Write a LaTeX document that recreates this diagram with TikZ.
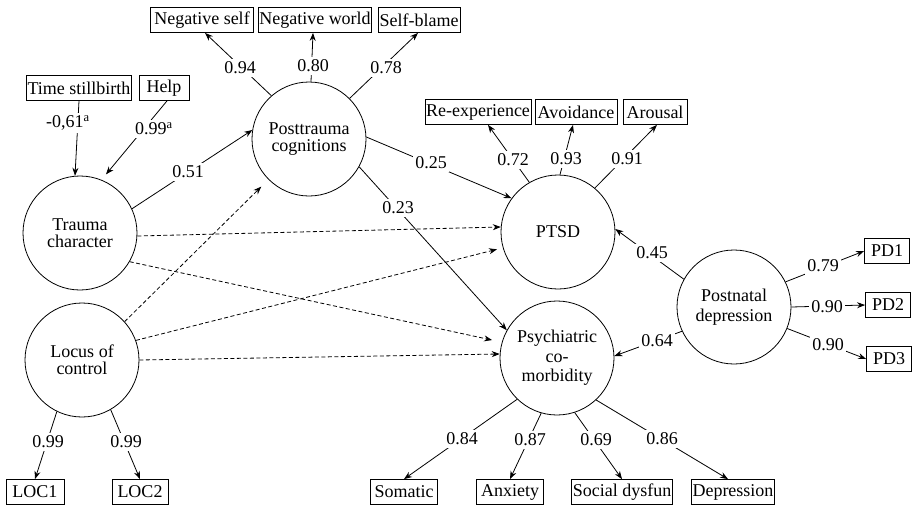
\documentclass[tikz,border=0pt]{standalone}
\usepackage{fontspec}
\setmainfont{Liberation Serif}
\usetikzlibrary{arrows.meta}
\begin{document}
\begin{tikzpicture}[x=1pt,y=-1pt,
  every node/.style={font=\fontsize{18}{17}\selectfont},
  latent/.style={draw, circle, minimum size=114pt, inner sep=0pt, align=center, line width=0.8pt},
  obs/.style={draw, rectangle, minimum height=25pt, inner xsep=1pt, inner ysep=0pt, line width=0.8pt},
  lbl/.style={fill=white, inner sep=2.5pt},
  arr/.style={line width=0.8pt, -{Stealth[length=8pt,width=6pt]}},
  darr/.style={line width=0.8pt, dash pattern=on 4pt off 2.5pt, -{Stealth[length=8pt,width=6pt]}}
]
\useasboundingbox (0,0) rectangle (914,507);

% latent variables
\node[latent, font=\fontsize{18}{16.5}\selectfont] (pc) at (309,139) {Posttrauma\\cognitions};
\node[latent, font=\fontsize{18}{16.5}\selectfont] (tc) at (80,233) {Trauma\\character};
\node[latent, font=\fontsize{18}{17}\selectfont] (lc) at (82,360) {Locus of\\control};
\node[latent] (ptsd) at (558,232) {PTSD};
\node[latent, font=\fontsize{18}{19.5}\selectfont] (psy) at (557,358) {Psychiatric\\co-\\morbidity};
\node[latent, font=\fontsize{18}{20}\selectfont] (pnd) at (734,307) {Postnatal\\depression};

% observed variables
\node[obs, minimum width=103pt] (ns) at (202,20) {Negative self};
\node[obs, minimum width=107pt] (nw) at (315,20) {Negative world};
\node[obs, minimum width=82pt] (sb) at (419,20) {Self-blame};
\node[obs, minimum width=102pt] (ts) at (79,88) {Time stillbirth};
\node[obs, minimum width=50pt] (hp) at (164,88) {Help};
\node[obs, minimum width=102pt] (re) at (478,112) {Re-experience};
\node[obs, minimum width=82pt] (av) at (576,112) {Avoidance};
\node[obs, minimum width=64pt] (ar) at (655,112) {Arousal};
\node[obs, minimum width=45pt] (pd1) at (887,251) {PD1};
\node[obs, minimum width=45pt] (pd2) at (888,305) {PD2};
\node[obs, minimum width=45pt] (pd3) at (889,359) {PD3};
\node[obs, minimum width=58pt] (loc1) at (35,492) {LOC1};
\node[obs, minimum width=56pt] (loc2) at (140,492) {LOC2};
\node[obs, minimum width=67pt] (som) at (404,492) {Somatic};
\node[obs, minimum width=67pt] (anx) at (510,492) {Anxiety};
\node[obs, minimum width=97pt] (soc) at (622,492) {Social dysfun};
\node[obs, minimum width=83pt] (dep) at (733,492) {Depression};

% connectors
\draw[arr] (pc.131) -- ([xshift=3pt]ns.south);
\draw[arr] (pc.88) -- ([xshift=-2pt]nw.south);
\draw[arr] (pc.45) -- ([xshift=-1pt]sb.south);
\draw[arr] (ts.south) -- (tc.95);
\draw[arr, shorten >=7pt] ([xshift=3pt]hp.south) -- (tc.68);
\draw[arr] (tc.25) -- (pc.171);
\draw[arr] (pc.2) -- (ptsd.144);
\draw[arr] (pc.331) -- (psy.151);
\draw[darr] (tc.357) -- (ptsd.175);
\draw[darr, shorten >=10pt] (tc.330) -- (psy.164);
\draw[darr, shorten >=10pt] (lc.42) -- (pc.225);
\draw[darr, shorten >=6pt] (lc.20) -- (ptsd.196);
\draw[darr] (lc.0) -- (psy.176);
\draw[arr] (lc.244) -- (loc1.north);
\draw[arr] (lc.300) -- (loc2.north);
\draw[arr] (pnd.151) -- (ptsd.3);
\draw[arr] (pnd.205) -- (psy.2);
\draw[arr] (pnd.26) -- (pd1.west);
\draw[arr] (pnd.0) -- (pd2.west);
\draw[arr] (pnd.338) -- (pd3.west);
\draw[arr] (ptsd.120) -- ([xshift=10pt]re.south);
\draw[arr] (ptsd.88) -- ([xshift=-3pt]av.south);
\draw[arr] (ptsd.50) -- ([xshift=2pt]ar.south);
\draw[arr] (psy.226) -- (som.north);
\draw[arr] (psy.254) -- (anx.north);
\draw[arr] (psy.288) -- (soc.north);
\draw[arr] (psy.313) -- ([xshift=-5pt]dep.north);

% labels
\node[lbl] (l1) at (240,68) {0.94};
\node[lbl] (l2) at (313,66) {0.80};
\node[lbl] (l3) at (386,68) {0.78};
\node[lbl] (l4) at (68,123) {-0,61\textsuperscript{a}};
\node[lbl] (l5) at (154,129) {0.99\textsuperscript{a}};
\node[lbl] (l6) at (188,172) {0.51};
\node[lbl] (l7) at (431,163) {0.25};
\node[lbl] (l8) at (398,208) {0.23};
\node[lbl] (l9) at (513,160) {0.72};
\node[lbl] (l10) at (566,159) {0.93};
\node[lbl] (l11) at (627,159) {0.91};
\node[lbl] (l12) at (652,253) {0.45};
\node[lbl] (l13) at (657,341) {0.64};
\node[lbl] (l14) at (823,266) {0.79};
\node[lbl] (l15) at (827,307) {0.90};
\node[lbl] (l16) at (828,345) {0.90};
\node[lbl] (l17) at (48,442) {0.99};
\node[lbl] (l18) at (126,442) {0.99};
\node[lbl] (l19) at (462,439) {0.84};
\node[lbl] (l20) at (530,440) {0.87};
\node[lbl] (l21) at (596,440) {0.69};
\node[lbl] (l22) at (662,439) {0.86};
\end{tikzpicture}
\end{document}
